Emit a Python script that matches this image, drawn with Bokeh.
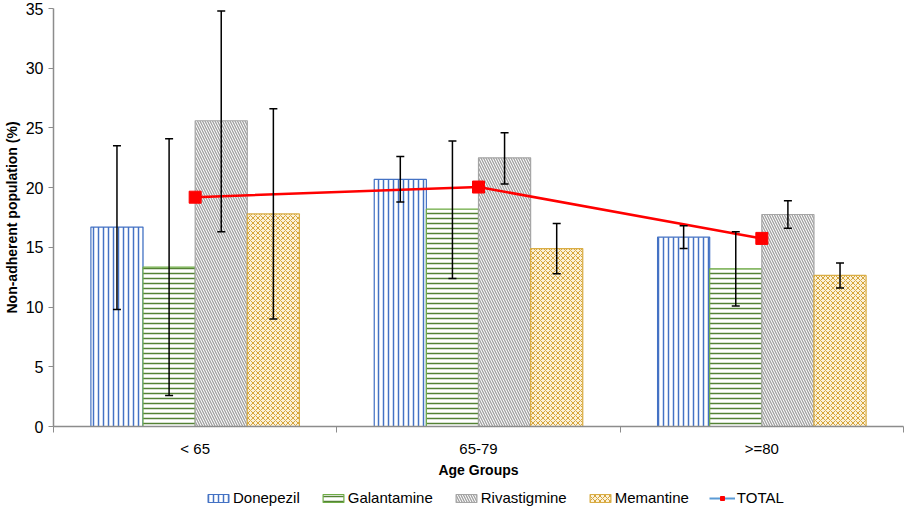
from bokeh.plotting import figure
from bokeh.layouts import column
from bokeh.models import (ColumnDataSource, Range1d, FixedTicker, Whisker, TeeHead,
                          Legend, LegendItem)
from bokeh.embed import file_html
from bokeh.resources import INLINE

groups = ["< 65", "65-79", ">=80"]
drugs = ["Donepezil", "Galantamine", "Rivastigmine", "Memantine"]

donepezil = [16.7, 20.7, 15.85]
donepezil_lo = [9.8, 18.8, 14.9]
donepezil_hi = [23.5, 22.6, 16.8]

galantamine = [13.35, 18.2, 13.2]
galantamine_lo = [2.6, 12.4, 10.1]
galantamine_hi = [24.1, 23.9, 16.3]

rivastigmine = [25.6, 22.5, 17.75]
rivastigmine_lo = [16.3, 20.3, 16.6]
rivastigmine_hi = [34.8, 24.6, 18.9]

memantine = [17.8, 14.9, 12.65]
memantine_lo = [9.0, 12.8, 11.6]
memantine_hi = [26.6, 17.0, 13.7]

total = [19.2, 20.05, 15.75]

FONT = "Liberation Sans"
NAN = float("nan")

p = figure(frame_width=850, frame_height=418, output_backend="svg", toolbar_location=None,
           x_range=Range1d(0, 3), y_range=Range1d(0, 35),
           min_border_top=8, min_border_right=4, min_border_left=43, min_border_bottom=0)
p.outline_line_color = None
p.xgrid.visible = False
p.ygrid.visible = False

centers = [i + 0.5 for i in range(len(groups))]
bw = 0.184
offsets = [-1.5 * bw, -0.5 * bw, 0.5 * bw, 1.5 * bw]

styles = [
    dict(fill_color="white", line_color="#4472C4",
         hatch_pattern="vertical_line", hatch_color="#4472C4", hatch_scale=5, hatch_weight=1.5),
    dict(fill_color="white", line_color="#70AD47",
         hatch_pattern="horizontal_line", hatch_color="#548235", hatch_scale=5, hatch_weight=1.5),
    dict(fill_color="white", line_color="#A5A5A5",
         hatch_pattern="left_diagonal_line", hatch_color="#A0A0A0", hatch_scale=5, hatch_weight=1.3),
    dict(fill_color="#FBF1D9", line_color="#D9AD45",
         hatch_pattern="diagonal_cross", hatch_color="#D6A53A", hatch_scale=5, hatch_weight=1.0),
]
series = [
    (donepezil, donepezil_lo, donepezil_hi),
    (galantamine, galantamine_lo, galantamine_hi),
    (rivastigmine, rivastigmine_lo, rivastigmine_hi),
    (memantine, memantine_lo, memantine_hi),
]

for (vals, lo, hi), style, off in zip(series, styles, offsets):
    xs = [c + off for c in centers]
    src = ColumnDataSource(dict(x=xs, top=vals))
    p.vbar(x="x", top="top", width=bw, source=src, line_width=1.2, **style)

tsrc = ColumnDataSource(dict(x=centers, y=total))
p.line("x", "y", source=tsrc, line_color="#FF0000", line_width=2.5)
p.scatter("x", "y", source=tsrc, marker="square", size=12, fill_color="#FF0000",
          line_color="#FF0000")

for (vals, lo, hi), off in zip(series, offsets):
    xs = [c + off for c in centers]
    src = ColumnDataSource(dict(x=xs, lo=lo, hi=hi))
    w = Whisker(source=src, base="x", lower="lo", upper="hi", dimension="height",
                line_color="black", line_width=1.5, level="overlay",
                upper_head=TeeHead(size=8, line_color="black", line_width=1.5),
                lower_head=TeeHead(size=8, line_color="black", line_width=1.5))
    p.add_layout(w)

# axes
p.xaxis.ticker = FixedTicker(ticks=centers, minor_ticks=[0, 1, 2, 3])
p.xaxis.major_label_overrides = {c: g for c, g in zip(centers, groups)}
p.xaxis.major_tick_line_color = None
p.xaxis.minor_tick_line_color = "#8C8C8C"
p.xaxis.minor_tick_out = 6
p.xaxis.minor_tick_in = 0
p.xaxis.axis_line_color = "#8C8C8C"
p.xaxis.axis_line_width = 1.5
p.xaxis.major_label_text_font = FONT
p.xaxis.major_label_text_font_size = "15px"
p.xaxis.major_label_text_color = "black"
p.xaxis.axis_label = "Age Groups"
p.xaxis.axis_label_text_font = FONT
p.xaxis.axis_label_text_font_size = "14px"
p.xaxis.axis_label_text_font_style = "bold"
p.xaxis.axis_label_text_color = "black"
p.xaxis.axis_label_standoff = 2
p.xaxis.major_label_standoff = 7

p.yaxis.ticker = FixedTicker(ticks=[0, 5, 10, 15, 20, 25, 30, 35])
p.yaxis.minor_tick_line_color = None
p.yaxis.major_tick_line_color = "#8C8C8C"
p.yaxis.major_tick_out = 5
p.yaxis.major_tick_in = 0
p.yaxis.axis_line_color = "#8C8C8C"
p.yaxis.axis_line_width = 1.5
p.yaxis.major_label_text_font = FONT
p.yaxis.major_label_text_font_size = "16px"
p.yaxis.major_label_text_color = "black"
p.yaxis.major_label_standoff = 5
p.yaxis.axis_label = "Non-adherent population (%)"
p.yaxis.axis_label_text_font = FONT
p.yaxis.axis_label_text_font_size = "14px"
p.yaxis.axis_label_text_font_style = "bold"
p.yaxis.axis_label_text_color = "black"
p.yaxis.axis_label_standoff = 3

# legend strip (separate figure holding only the legend swatches; its
# swatch glyphs hold NaN so nothing but the legend is drawn)
lg = figure(width=897, height=26, output_backend="svg", toolbar_location=None,
            x_range=Range1d(0, 1), y_range=Range1d(0, 1),
            x_axis_type=None, y_axis_type=None, min_border=0)
lg.outline_line_color = None
lg.xgrid.visible = False
lg.ygrid.visible = False
items = []
for name, style in zip(drugs, styles):
    r = lg.vbar(x="x", top="top", width=0.1,
                source=ColumnDataSource(dict(x=[NAN], top=[NAN])),
                line_width=1.2, **style)
    items.append(LegendItem(label=name, renderers=[r]))
ls = ColumnDataSource(dict(x=[NAN, NAN], y=[NAN, NAN]))
lr = lg.line("x", "y", source=ls, line_color="#5B9BD5", line_width=2)
sr = lg.scatter("x", "y", source=ls, marker="square", size=9, fill_color="#FF0000",
                line_color="#FF0000")
items.append(LegendItem(label="TOTAL", renderers=[lr, sr]))
legend = Legend(items=items, orientation="horizontal", location=(152, 0),
                label_text_font=FONT, label_text_font_size="15px", label_text_color="black",
                glyph_width=26, glyph_height=10, spacing=20, label_standoff=2,
                border_line_color=None, background_fill_alpha=0, padding=3, margin=0)
lg.add_layout(legend, "center")

open("out.html", "w").write(file_html(column(p, lg, spacing=0), INLINE))
